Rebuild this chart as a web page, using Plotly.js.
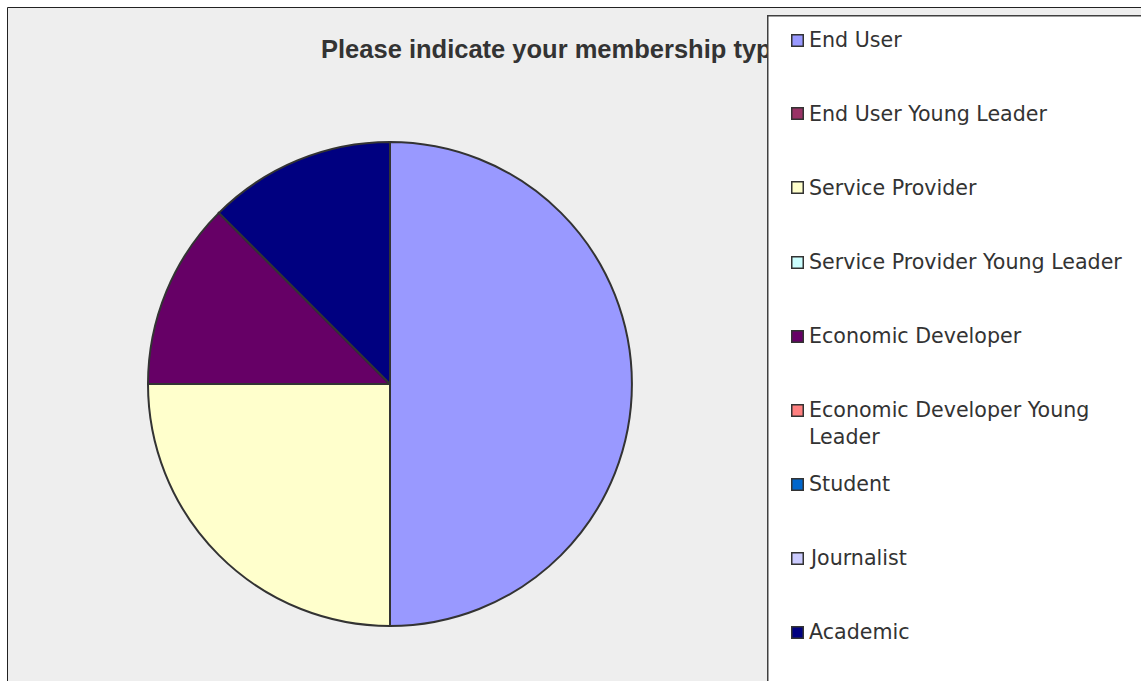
<!DOCTYPE html>
<html>
<head>
<meta charset="utf-8">
<script src="https://cdn.plot.ly/plotly-3.0.1.min.js"></script>
<style>html,body{margin:0;padding:0;background:#fff;}#chart{width:1141px;height:681px;}</style>
</head>
<body>
<div id="chart"></div>
<script>
const chartTitle = 'Please indicate your membership type';
const labels = ['End User', 'End User Young Leader', 'Service Provider', 'Service Provider Young Leader',
  'Economic Developer', 'Economic Developer Young Leader', 'Student', 'Journalist', 'Academic'];
const values = [4, 0, 2, 0, 1, 0, 0, 0, 1];
const colors = ['#9999FF', '#993366', '#FFFFCC', '#CCFFFF', '#660066', '#FF8080', '#0066CC', '#CCCCFF', '#000080'];

const W = 1141, H = 681;
const px = x => x / W;
const py = y => 1 - y / H;

const pie = {
  type: 'pie',
  labels: labels,
  values: values,
  marker: { colors: colors, line: { color: '#333333', width: 2 } },
  sort: false,
  direction: 'clockwise',
  rotation: 0,
  textinfo: 'none',
  hoverinfo: 'label+percent',
  showlegend: false,
  automargin: false,
  domain: { x: [px(148), px(632)], y: [py(626), py(142)] }
};

const annotations = [];
// legend box (drawn above the title)
annotations.push({
  xref: 'paper', yref: 'paper', x: px(766.5), y: py(15), xanchor: 'left', yanchor: 'top',
  text: ' ', showarrow: false, width: 420, height: 720, borderpad: 0,
  bgcolor: '#ffffff', bordercolor: '#404040', borderwidth: 1.5
});
labels.forEach((lab, i) => {
  const cy = 40 + 74 * i;
  annotations.push({
    xref: 'paper', yref: 'paper', x: px(797), y: py(cy), xanchor: 'center', yanchor: 'middle',
    text: ' ', showarrow: false, width: 10, height: 10, borderpad: 0, font: { size: 1 },
    bgcolor: colors[i], bordercolor: '#333333', borderwidth: 1.5
  });
  const shown = lab === 'Economic Developer Young Leader' ? 'Economic Developer Young<br>Leader' : lab;
  annotations.push({
    xref: 'paper', yref: 'paper', x: px(807), y: py(cy - 14), xanchor: 'left', yanchor: 'top',
    align: 'left', text: shown, showarrow: false,
    font: { family: 'DejaVu Sans', size: 20.6, color: '#333333' }
  });
});

const layout = {
  width: W, height: H,
  margin: { l: 0, r: 0, t: 0, b: 0, pad: 0 },
  paper_bgcolor: '#ffffff',
  title: {
    text: chartTitle,
    font: { family: 'Liberation Sans, Arial, sans-serif', size: 25.5, color: '#333333', weight: 'bold' },
    x: px(321), xanchor: 'left', xref: 'paper',
    y: py(49), yanchor: 'middle', yref: 'paper'
  },
  shapes: [{
    type: 'rect', xref: 'paper', yref: 'paper', layer: 'below',
    x0: px(7.5), x1: px(1160), y0: py(700), y1: py(7.5),
    fillcolor: '#eeeeee', line: { color: '#222222', width: 1 }
  }],
  annotations: annotations,
  showlegend: false
};

Plotly.newPlot('chart', [pie], layout, { displayModeBar: false, staticPlot: false });
</script>
</body>
</html>
